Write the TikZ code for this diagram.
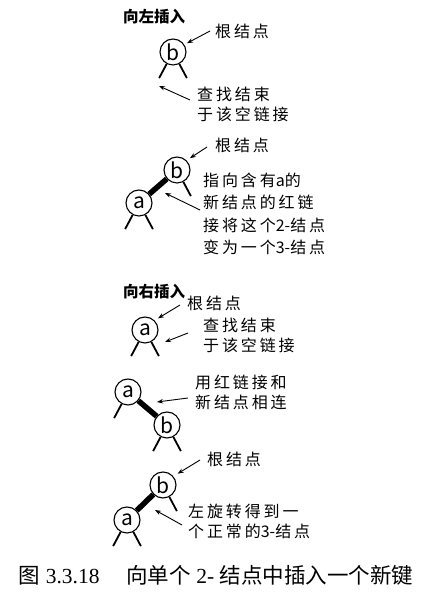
\documentclass[tikz,border=0pt]{standalone}
\usepackage{fontspec}
\setmainfont{Liberation Serif}
\newfontfamily\cjk{Noto Sans CJK SC}
\newfontfamily\cjknote[LetterSpace=18]{Noto Sans CJK SC}
\usetikzlibrary{arrows.meta, positioning}

\begin{document}
\begin{tikzpicture}[x=1pt, y=1pt,
    keynode/.style={circle, draw, line width=1.1pt, minimum size=26pt, inner sep=0pt, fill=white, font=\cjk\fontsize{21}{21}\selectfont},
    leg/.style={line width=1.8pt},
    redlink/.style={line width=5.5pt},
    arr/.style={-{Stealth[length=6pt, width=4.5pt]}, line width=0.9pt},
    note/.style={font=\cjknote\fontsize{16}{#1}\selectfont, align=left, anchor=west, inner sep=0pt},
    note/.default=20,
    heading/.style={font=\cjk\bfseries\fontsize{15.5}{15.5}\selectfont, anchor=west, inner sep=0pt}
]
\useasboundingbox (0,0) rectangle (424,604);

% Insert into the left
\node[heading] (left) at (123,587) {向左插入};
\node[keynode] (b1) at (173,552) {b};
\node[note] (lab1) at (215,573) {根结点};
\node[note] (q1) at (197,500) {查找结束\\于该空链接};
\coordinate (empty1) at (159,518);

% Red link to the new node a
\node[keynode] (b2) at (177,434) {b};
\node[keynode] (a2) at (139,401) {a};
\node[note] (lab2) at (215,459) {根结点};
\node[note=22.5] (t2) at (203,390) {指向含有{\cjk a}的\\新结点的红链\\接将这个{\cjk 2-}结点\\变为一个{\cjk 3-}结点};
\coordinate (link2) at (165,411);

% Insert into the right
\node[heading] (right) at (123,312) {向右插入};
\node[keynode] (a3) at (145,274) {a};
\node[note] (lab3) at (187,301) {根结点};
\node[note] (q3) at (203,269) {查找结束\\于该空链接};
\coordinate (empty3) at (165,262);

% Red link to the new node b
\node[keynode] (a4) at (128,212) {a};
\node[keynode] (b4) at (167,179) {b};
\node[note] (t4) at (195,212) {用红链接和\\新结点相连};
\coordinate (link4) at (157,202);

% After the left rotation
\node[keynode] (b5) at (163,119) {b};
\node[keynode] (a5) at (127,84) {a};
\node[note] (lab5) at (207,145) {根结点};
\node[note] (t5) at (188,83) {左旋转得到一\\个正常的{\cjk 3-}结点};
\coordinate (link5) at (155,94);

% Links
\draw[redlink] (a2) -- (b2);
\draw[redlink] (a4) -- (b4);
\draw[redlink] (a5) -- (b5);
\foreach \n/\ang in {b1/-118, b1/-62, b2/-62, a2/-118, a2/-62, a3/-118, a3/-62,
                     a4/-118, b4/-118, b4/-62, b5/-62, a5/-118, a5/-62}
    \draw[leg] (\n.\ang) -- ++(\ang:16);

% Arrows
\draw[arr, shorten >=3pt] ([xshift=-5pt]lab1.west) -- (b1.33);
\draw[arr] ([xshift=-7pt, yshift=4pt]q1.west) -- (empty1);
\draw[arr, shorten >=4pt] ([xshift=-8pt, yshift=-2pt]lab2.west) -- (b2.45);
\draw[arr] ([xshift=-3pt, yshift=4pt]t2.west) -- (link2);
\draw[arr, shorten >=4pt] ([xshift=-7pt, yshift=-2pt]lab3.west) -- (a3.45);
\draw[arr] ([xshift=-15pt, yshift=2pt]q3.west) -- (empty3);
\draw[arr] ([xshift=-7pt, yshift=-6pt]t4.west) -- (link4);
\draw[arr, shorten >=5pt] ([xshift=-7pt, yshift=-1pt]lab5.west) -- (b5.40);
\draw[arr] ([xshift=-6pt, yshift=-4pt]t5.west) -- (link5);

% Caption
\node[font=\fontsize{21.5}{21.5}\selectfont, inner sep=0pt] (cap) at (216,29) {{\cjk 图} 3.3.18\quad\ {\cjk 向单个} 2- {\cjk 结点中插入一个新键}};
\end{tikzpicture}
\end{document}
